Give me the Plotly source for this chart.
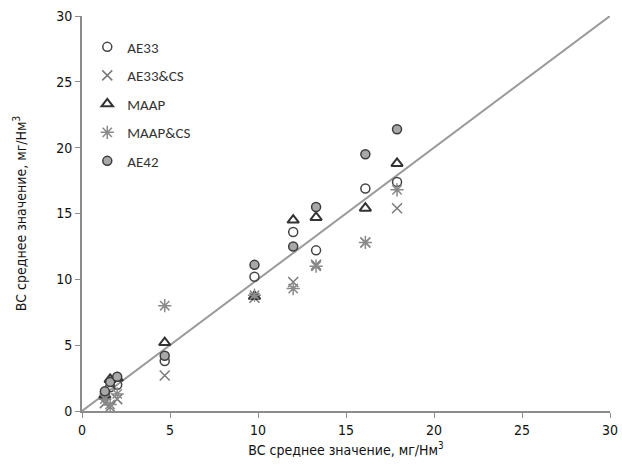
import plotly.graph_objects as go

# Reference measurement (x) per campaign and the averaged BC from each instrument (y)
x_ref = [1.3, 1.6, 2.0, 4.7, 9.8, 12.0, 13.3, 16.1, 17.9]

ae33 = [1.3, 1.8, 2.0, 3.8, 10.2, 13.6, 12.2, 16.9, 17.4]
ae33_cs = [0.6, 0.3, 0.9, 2.7, 8.6, 9.8, 11.1, 12.8, 15.4]
maap = [1.2, 2.4, 2.5, 5.2, 8.7, 14.5, 14.7, 15.4, 18.8]
maap_cs = [0.9, 0.5, 1.3, 8.0, 8.8, 9.3, 11.0, 12.8, 16.8]
ae42 = [1.5, 2.2, 2.6, 4.2, 11.1, 12.5, 15.5, 19.5, 21.4]

series_names = ["AE33", "AE33&CS", "MAAP", "MAAP&CS", "AE42"]
series_values = [ae33, ae33_cs, maap, maap_cs, ae42]

axis_ticks = [0, 5, 10, 15, 20, 25, 30]
axis_title = "BC среднее значение, мг/Нм<sup>3</sup>"

styles = {
    "AE33": dict(symbol="circle-open", color="#444444", size=9, line=dict(width=1.5, color="#444444")),
    "AE33&CS": dict(symbol="x-thin-open", color="#7a7a7a", size=10, line=dict(width=1.5, color="#7a7a7a")),
    "MAAP": dict(symbol="triangle-up-open", color="#333333", size=10, line=dict(width=2, color="#333333")),
    "MAAP&CS": dict(symbol="asterisk-open", color="#8a8a8a", size=11, line=dict(width=1.5, color="#8a8a8a")),
    "AE42": dict(symbol="circle", color="#a8a8a8", size=9, line=dict(width=1.5, color="#3c3c3c")),
}

fig = go.Figure()

# 1:1 line
fig.add_trace(go.Scatter(
    x=[axis_ticks[0], axis_ticks[-1]], y=[axis_ticks[0], axis_ticks[-1]],
    mode="lines", line=dict(color="#9a9a9a", width=2),
    showlegend=False, hoverinfo="skip",
))

for name, vals in zip(series_names, series_values):
    fig.add_trace(go.Scatter(
        x=x_ref, y=vals, mode="markers", name=name,
        legendgroup=name, marker=styles[name],
    ))

narrow = "'Liberation Sans Narrow', 'Arial Narrow', 'DejaVu Sans Condensed', Roboto, sans-serif"
axis_common = dict(
    range=[0, 30], tickvals=axis_ticks, showgrid=False, zeroline=False,
    showline=True, linecolor="#8c8c8c", linewidth=2,
    ticks="outside", ticklen=5, tickcolor="#8c8c8c", tickwidth=1,
    tickfont=dict(family=narrow, size=14, color="#111111"),
    title_font=dict(family=narrow, size=14, color="#111111"),
    automargin=False,
)

fig.update_layout(
    width=622, height=471,
    margin=dict(l=82, r=12, t=16, b=60, autoexpand=False),
    paper_bgcolor="white", plot_bgcolor="white",
    xaxis=dict(axis_common, title=dict(text=axis_title, standoff=8)),
    yaxis=dict(axis_common, title=dict(text=axis_title, standoff=26)),
    legend=dict(
        x=0.01, y=0.963, xanchor="left", yanchor="top",
        bgcolor="rgba(0,0,0,0)", borderwidth=0,
        font=dict(family="Carlito, Lato, sans-serif", size=15, color="#333333"),
        traceorder="grouped", tracegroupgap=6, itemwidth=30,
    ),
)

fig.write_html("out.html")
